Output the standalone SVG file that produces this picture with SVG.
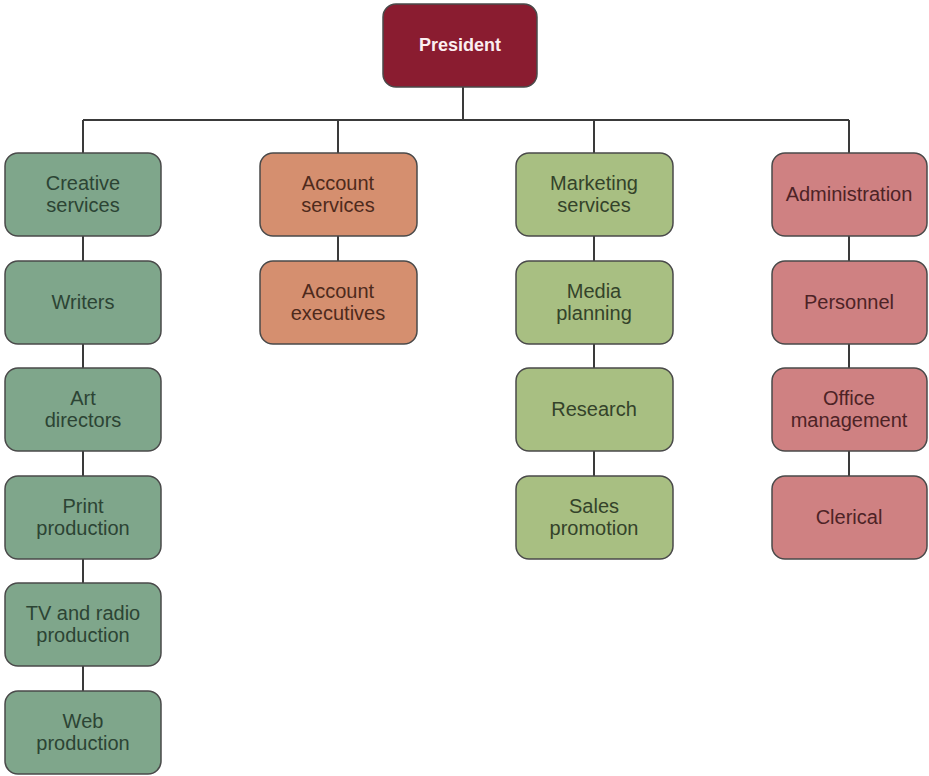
<svg xmlns="http://www.w3.org/2000/svg" width="929" height="776" viewBox="0 0 929 776">
  <style>
    .box { stroke: #4a4a4a; stroke-width: 1.5; }
    .lbl { font-family: "Liberation Sans", Arial, sans-serif; font-size: 20px; text-anchor: middle; }
    .creative rect { fill: #7fa68b; }
    .creative text { fill: #2c4434; }
    .account rect { fill: #d58f6f; }
    .account text { fill: #4e2a1c; }
    .marketing rect { fill: #a8bf82; }
    .marketing text { fill: #34432a; }
    .admin rect { fill: #cf8182; }
    .admin text { fill: #4d2326; }
    .conn { stroke: #3a3a3a; stroke-width: 2; fill: none; }
  </style>

  <!-- connectors -->
  <g id="connectors" class="conn">
    <line x1="463" y1="87" x2="463" y2="120"/>
    <line x1="83" y1="120" x2="849" y2="120"/>
    <line x1="83" y1="120" x2="83" y2="153"/>
    <line x1="338" y1="120" x2="338" y2="153"/>
    <line x1="594" y1="120" x2="594" y2="153"/>
    <line x1="849" y1="120" x2="849" y2="153"/>
    <line x1="83" y1="236" x2="83" y2="691"/>
    <line x1="338" y1="236" x2="338" y2="261"/>
    <line x1="594" y1="236" x2="594" y2="476"/>
    <line x1="849" y1="236" x2="849" y2="476"/>
  </g>

  <!-- top -->
  <g id="president">
    <rect class="box" x="383" y="4" width="154" height="83" rx="13" fill="#8a1c30"/>
    <text x="460" y="51" font-family="Liberation Sans, Arial, sans-serif" font-size="18" font-weight="bold" fill="#fbeef0" text-anchor="middle">President</text>
  </g>

  <!-- creative column -->
  <g id="creative-services" class="creative">
    <rect class="box" x="5" y="153" width="156" height="83" rx="13"/>
    <text class="lbl" x="83" y="190">Creative</text>
    <text class="lbl" x="83" y="212">services</text>
  </g>
  <g id="writers" class="creative">
    <rect class="box" x="5" y="261" width="156" height="83" rx="13"/>
    <text class="lbl" x="83" y="309">Writers</text>
  </g>
  <g id="art-directors" class="creative">
    <rect class="box" x="5" y="368" width="156" height="83" rx="13"/>
    <text class="lbl" x="83" y="405">Art</text>
    <text class="lbl" x="83" y="427">directors</text>
  </g>
  <g id="print-production" class="creative">
    <rect class="box" x="5" y="476" width="156" height="83" rx="13"/>
    <text class="lbl" x="83" y="513">Print</text>
    <text class="lbl" x="83" y="535">production</text>
  </g>
  <g id="tv-radio-production" class="creative">
    <rect class="box" x="5" y="583" width="156" height="83" rx="13"/>
    <text class="lbl" x="83" y="620">TV and radio</text>
    <text class="lbl" x="83" y="642">production</text>
  </g>
  <g id="web-production" class="creative">
    <rect class="box" x="5" y="691" width="156" height="83" rx="13"/>
    <text class="lbl" x="83" y="728">Web</text>
    <text class="lbl" x="83" y="750">production</text>
  </g>

  <!-- account column -->
  <g id="account-services" class="account">
    <rect class="box" x="260" y="153" width="157" height="83" rx="13"/>
    <text class="lbl" x="338" y="190">Account</text>
    <text class="lbl" x="338" y="212">services</text>
  </g>
  <g id="account-executives" class="account">
    <rect class="box" x="260" y="261" width="157" height="83" rx="13"/>
    <text class="lbl" x="338" y="298">Account</text>
    <text class="lbl" x="338" y="320">executives</text>
  </g>

  <!-- marketing column -->
  <g id="marketing-services" class="marketing">
    <rect class="box" x="516" y="153" width="157" height="83" rx="13"/>
    <text class="lbl" x="594" y="190">Marketing</text>
    <text class="lbl" x="594" y="212">services</text>
  </g>
  <g id="media-planning" class="marketing">
    <rect class="box" x="516" y="261" width="157" height="83" rx="13"/>
    <text class="lbl" x="594" y="298">Media</text>
    <text class="lbl" x="594" y="320">planning</text>
  </g>
  <g id="research" class="marketing">
    <rect class="box" x="516" y="368" width="157" height="83" rx="13"/>
    <text class="lbl" x="594" y="416">Research</text>
  </g>
  <g id="sales-promotion" class="marketing">
    <rect class="box" x="516" y="476" width="157" height="83" rx="13"/>
    <text class="lbl" x="594" y="513">Sales</text>
    <text class="lbl" x="594" y="535">promotion</text>
  </g>

  <!-- administration column -->
  <g id="administration" class="admin">
    <rect class="box" x="772" y="153" width="155" height="83" rx="13"/>
    <text class="lbl" x="849" y="201">Administration</text>
  </g>
  <g id="personnel" class="admin">
    <rect class="box" x="772" y="261" width="155" height="83" rx="13"/>
    <text class="lbl" x="849" y="309">Personnel</text>
  </g>
  <g id="office-management" class="admin">
    <rect class="box" x="772" y="368" width="155" height="83" rx="13"/>
    <text class="lbl" x="849" y="405">Office</text>
    <text class="lbl" x="849" y="427">management</text>
  </g>
  <g id="clerical" class="admin">
    <rect class="box" x="772" y="476" width="155" height="83" rx="13"/>
    <text class="lbl" x="849" y="524">Clerical</text>
  </g>
</svg>
